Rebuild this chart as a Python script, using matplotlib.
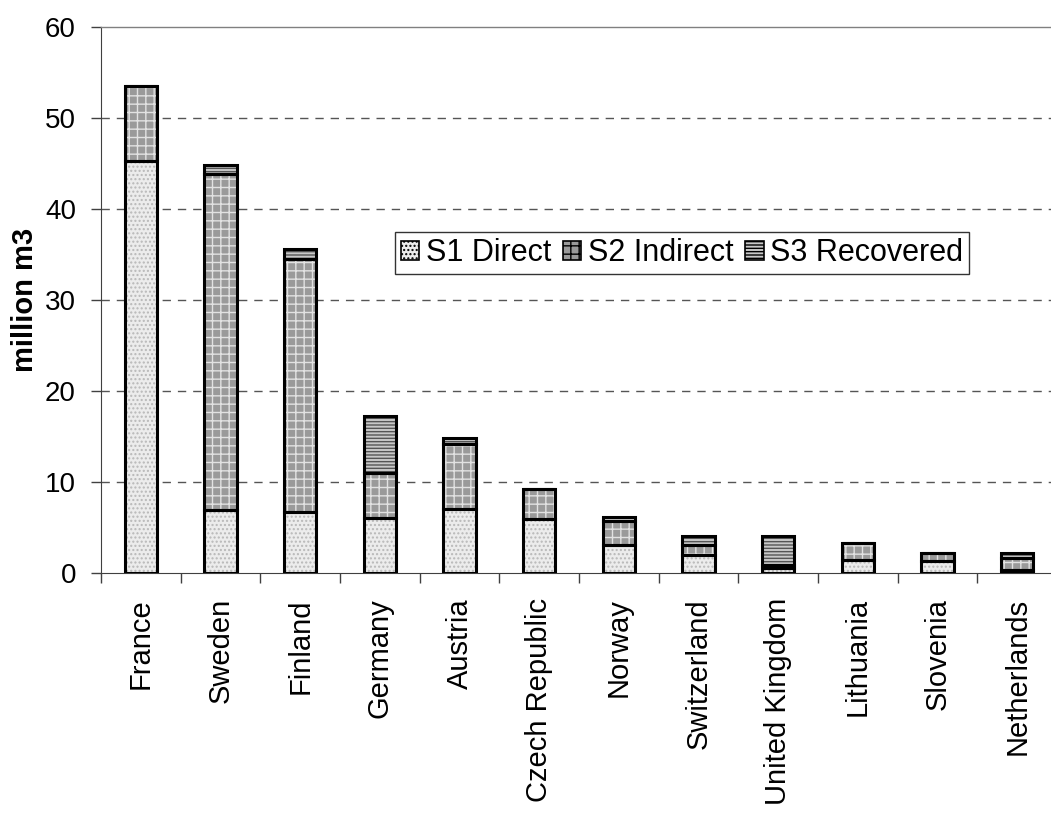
import matplotlib
matplotlib.use("Agg")
import matplotlib.pyplot as plt
import numpy as np

plt.rcParams['font.family'] = ['Liberation Sans', 'DejaVu Sans']
plt.rcParams['hatch.linewidth'] = 1.0

# Data (million m3)
countries = ["France", "Sweden", "Finland", "Germany", "Austria", "Czech Republic",
             "Norway", "Switzerland", "United Kingdom", "Lithuania", "Slovenia", "Netherlands"]
s1_direct = [45.3, 6.9, 6.7, 6.0, 7.0, 5.9, 3.1, 2.0, 0.5, 1.4, 1.3, 0.3]
s2_indirect = [8.2, 36.9, 27.8, 5.0, 7.2, 3.3, 2.6, 1.1, 0.4, 1.9, 0.9, 1.4]
s3_recovered = [0.0, 1.0, 1.1, 6.2, 0.6, 0.0, 0.4, 1.0, 3.2, 0.0, 0.0, 0.5]
series_names = ["S1 Direct", "S2 Indirect", "S3 Recovered"]

# Styles: (face colour, hatch colour, hatch)
styles = [("#ececec", "#b8b8b8", "...."),
          ("#9a9a9a", "#e2e2e2", "++"),
          ("#c8c8c8", "#555555", "-----")]

fig = plt.figure(figsize=(10.51, 8.18), dpi=100)
ax = fig.add_axes([101 / 1051, 1 - 573 / 818, 956 / 1051, 546 / 818])

x = np.arange(len(countries))
width = 0.41
bottom = np.zeros(len(countries))
handles = []
for name, vals, (face, hcol, hatch) in zip(series_names, [s1_direct, s2_indirect, s3_recovered], styles):
    vals = np.array(vals)
    # hatched fill first, then a black outline on top
    bars = ax.bar(x, vals, width, bottom=bottom, color=face, edgecolor=hcol,
                  hatch=hatch, linewidth=0, zorder=2)
    ax.bar(x, vals, width, bottom=bottom, fill=False, edgecolor="black",
           linewidth=2.2, zorder=3)
    handles.append(bars)
    bottom += vals

ax.set_xlim(-0.5, len(countries) - 0.5)
ax.set_ylim(0, 60)
ax.set_yticks(range(0, 61, 10))
ax.set_xticks(x)
ax.set_xticklabels(countries, rotation=90, fontsize=21)
ax.set_xticks(np.arange(-0.5, len(countries), 1), minor=True)
ax.tick_params(axis="x", which="major", length=0, pad=18)
ax.tick_params(axis="x", which="minor", length=7, width=1, color="#404040", direction="out")
ax.tick_params(axis="y", labelsize=20, length=7, width=1, color="#404040", direction="out", pad=11)

for v in range(10, 60, 10):
    ax.axhline(v, color="#555555", linestyle=(0, (6, 5)), linewidth=1, zorder=1)

for side in ["top", "right"]:
    ax.spines[side].set_color("#808080")
    ax.spines[side].set_linewidth(1)
ax.spines["left"].set_color("#404040")
ax.spines["bottom"].set_color("#404040")

ax.set_ylabel("million m3", fontsize=21, fontweight="bold", labelpad=4)

leg = ax.legend(handles, series_names, loc="upper left", bbox_to_anchor=(294 / 956, (573 - 232) / 546),
                ncol=3, fontsize=22, frameon=True, fancybox=False, edgecolor="black",
                handlelength=0.6, handleheight=0.6, handletextpad=0.2, columnspacing=0.4,
                borderpad=0.2, borderaxespad=0)
leg.get_frame().set_linewidth(1)
for h in leg.legend_handles:
    h.set_edgecolor("black")
    h.set_linewidth(1.2)

fig.savefig("out.png", dpi=100)
